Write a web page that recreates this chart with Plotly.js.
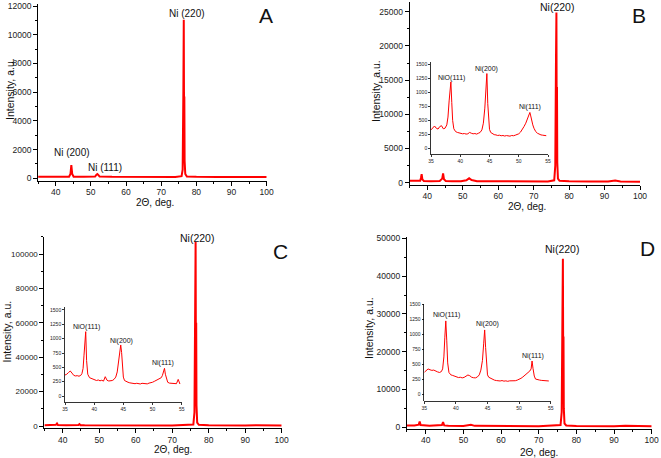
<!DOCTYPE html>
<html>
<head>
<meta charset="utf-8">
<script src="https://cdn.plot.ly/plotly-3.0.1.min.js"></script>
<style>
  body { margin: 0; background: #fff; }
  #xrd { width: 661px; height: 458px; }
</style>
</head>
<body>
<div id="xrd"></div>
<script>
//========================= Data =====================================
// Panel A, full scan
const angleA = [35, 38, 41, 43.8, 44.2, 44.45, 44.7, 45.1, 48, 51.2, 51.6, 51.85, 52.1, 52.5, 56, 62, 68, 74, 75.8, 76.1, 76.3, 76.42, 76.5, 76.58, 76.66, 76.85, 77.3, 80, 86, 92, 100];
const countsA = [110, 100, 100, 110, 300, 925, 300, 110, 100, 120, 250, 300, 240, 120, 100, 100, 95, 95, 150, 600, 6000, 11050, 4500, 5700, 1200, 300, 130, 100, 95, 90, 90];

// Panel B, full scan
const angleB = [35, 36, 37, 38, 38.2, 38.4, 38.6, 39, 41, 43.5, 44.2, 44.45, 44.7, 45.2, 47, 49.5, 51, 51.8, 52.5, 54, 58, 64, 70, 74, 75.8, 76.1, 76.3, 76.42, 76.5, 76.58, 76.66, 76.85, 77.3, 80, 86, 91, 93, 94.5, 100];
const countsB = [300, 310, 290, 300, 700, 1240, 500, 260, 230, 250, 600, 1370, 500, 250, 200, 200, 350, 640, 400, 230, 200, 190, 180, 190, 350, 2500, 18000, 24900, 9000, 14000, 3000, 600, 280, 200, 170, 160, 330, 170, 150];

// Panel C, full scan
const angleC = [35, 37, 38.15, 38.45, 38.7, 41, 44.3, 44.6, 44.9, 46, 50, 52, 53, 60, 70, 75.8, 76.1, 76.3, 76.42, 76.5, 76.58, 76.66, 76.85, 77.3, 80, 90, 93, 100];
const countsC = [500, 500, 700, 1500, 600, 450, 600, 1100, 500, 420, 400, 600, 400, 380, 350, 800, 8000, 70000, 107000, 40000, 60000, 12000, 2000, 700, 400, 350, 500, 300];

// Panel D, full scan
const angleD = [35, 37, 38.15, 38.4, 38.65, 41, 44.3, 44.6, 44.9, 46, 50, 52, 53, 60, 70, 75.8, 76.1, 76.3, 76.42, 76.5, 76.58, 76.66, 76.85, 77.3, 80, 90, 93, 100];
const countsD = [450, 450, 700, 1550, 600, 400, 600, 1350, 500, 380, 350, 650, 380, 320, 300, 600, 4000, 30000, 44600, 18000, 24000, 5000, 1000, 500, 330, 300, 420, 280];

// Insets (35-55 deg zoom), all three share one angle grid
const angleInset = [35.0, 35.3, 35.6, 35.9, 36.2, 36.5, 36.8, 37.1, 37.4, 37.7,
  37.9, 38.1, 38.25, 38.4, 38.55, 38.7, 38.9, 39.2, 39.5, 39.8,
  40.1, 40.4, 40.7, 41.0, 41.3, 41.6, 41.9, 42.2, 42.5, 42.8,
  43.1, 43.4, 43.7, 43.95, 44.2, 44.4, 44.55, 44.7, 44.85, 45.0,
  45.2, 45.5, 45.8, 46.1, 46.4, 46.7, 47.0, 47.3, 47.6, 47.9,
  48.2, 48.5, 48.8, 49.1, 49.4, 49.7, 50.0, 50.3, 50.6, 50.9,
  51.2, 51.5, 51.7, 51.9, 52.05, 52.2, 52.4, 52.6, 52.9, 53.2,
  53.5, 53.8, 54.1, 54.4, 54.7];

const insetB = [330, 370, 400, 360, 345, 390, 405, 350, 360, 420,
  560, 850, 1050, 1190, 820, 500, 350, 300, 285, 275,
  270, 260, 265, 255, 260, 285, 270, 260, 265, 255,
  270, 285, 330, 450, 720, 1180, 1340, 800, 480, 340,
  285, 260, 245, 240, 230, 235, 225, 230, 220, 228,
  225, 218, 230, 225, 235, 245, 260, 290, 330, 390,
  450, 530, 600, 643, 580, 500, 420, 360, 300, 270,
  250, 240, 235, 228, 226];

const insetC = [366, 380, 410, 436, 400, 360, 350, 355, 345, 360,
  390, 480, 700, 960, 1122, 620, 380, 320, 305, 290,
  285, 270, 280, 265, 275, 260, 337, 275, 262, 265,
  270, 290, 330, 420, 600, 800, 890, 760, 480, 330,
  270, 250, 240, 230, 222, 225, 215, 222, 218, 210,
  222, 215, 220, 212, 225, 230, 240, 255, 270, 285,
  300, 320, 360, 460, 483, 380, 280, 240, 225, 220,
  215, 210, 215, 290, 209];

const insetD = [363, 400, 419, 405, 395, 400, 380, 370, 360, 375,
  420, 620, 950, 1222, 900, 520, 360, 320, 310, 300,
  285, 275, 280, 270, 278, 300, 318, 305, 280, 272,
  270, 285, 320, 400, 560, 850, 1071, 780, 450, 320,
  280, 262, 245, 232, 225, 220, 218, 225, 215, 220,
  212, 220, 218, 225, 222, 232, 245, 262, 285, 310,
  340, 365, 385, 420, 552, 430, 300, 250, 238, 234,
  228, 225, 222, 218, 218];

//========================= Helpers =====================================
// pixel -> paper coordinates for the 661x458 canvas
const px = (x) => x / 661;
const py = (y) => 1 - y / 458;

const FONT = "Arial, 'Liberation Sans', sans-serif";
const RED = "#ff0000";

function mainAxis(xDom, range, dtick, minorDtick, anchor, tickSize) {
  return {
    domain: xDom,
    range: range,
    anchor: anchor,
    dtick: dtick,
    tick0: 0,
    tickformat: "d",
    showline: true,
    linecolor: "#000",
    linewidth: 1,
    ticks: "outside",
    ticklen: 4,
    tickwidth: 1,
    tickcolor: "#000",
    minor: {ticks: "outside", ticklen: 2, tickcolor: "#000", dtick: minorDtick, tick0: 0},
    showgrid: false,
    zeroline: false,
    tickfont: {family: FONT, size: tickSize || 8.5, color: "#222"}
  };
}

// x axes of the main panels sit their labels a touch closer to the line
function mainX(xDom, anchor) {
  const ax = mainAxis(xDom, [35, 100], 10, 5, anchor);
  ax.ticklabelstandoff = -1;
  return ax;
}

function insetAxis(dom, range, dtick, anchor) {
  return {
    domain: dom,
    range: range,
    anchor: anchor,
    dtick: dtick,
    tick0: 0,
    tickformat: "d",
    showline: true,
    linecolor: "#000",
    linewidth: 0.8,
    ticks: "outside",
    ticklen: 2,
    tickwidth: 0.8,
    tickcolor: "#000",
    showgrid: false,
    zeroline: false,
    tickfont: {family: FONT, size: 5, color: "#222"}
  };
}

function trace(x, y, xa, ya, width) {
  return {
    x: x,
    y: y,
    xaxis: xa,
    yaxis: ya,
    type: "scatter",
    mode: "lines",
    line: {color: RED, width: width},
    hoverinfo: "skip"
  };
}

//========================= Traces =====================================
const traces = [
  trace(angleA, countsA, "x", "y", 2),
  trace(angleB, countsB, "x2", "y2", 2),
  trace(angleInset, insetB, "x3", "y3", 1),
  trace(angleC, countsC, "x4", "y4", 2),
  trace(angleInset, insetC, "x5", "y5", 1),
  trace(angleD, countsD, "x6", "y6", 2),
  trace(angleInset, insetD, "x7", "y7", 1)
];

//========================= Annotations =====================================
function label(text, x, y, size, angle) {
  return {
    text: text,
    xref: "paper",
    yref: "paper",
    x: px(x),
    y: py(y),
    xanchor: "center",
    yanchor: "middle",
    showarrow: false,
    borderpad: 0,
    textangle: angle || 0,
    font: {family: FONT, size: size, color: "#111"}
  };
}

const annotations = [
  // axis titles
  label("Intensity, a.u.", 10, 89, 10.5, -90),
  label("2Θ, deg.", 155, 202, 10),
  label("Intensity, a.u.", 376, 91, 10.5, -90),
  label("2Θ, deg.", 527, 206, 10),
  label("Intensity, a.u.", 6.5, 332, 10.5, -90),
  label("2Θ, deg.", 172.5, 449, 10),
  label("Intensity, a.u.", 369, 328, 10.5, -90),
  label("2Θ, deg.", 539, 452, 10),
  // panel letters
  label("A", 265.5, 16, 21),
  label("B", 639, 15, 21),
  label("C", 280.7, 251, 21),
  label("D", 647, 248, 21),
  // peak labels, main panels
  label("Ni (200)", 72, 152, 10),
  label("Ni (111)", 105, 167.5, 10),
  label("Ni (220)", 186.5, 14, 10),
  label("Ni(220)", 557, 6.5, 10.5),
  label("Ni(220)", 197, 237.5, 10.5),
  label("Ni(220)", 562, 248.5, 10.5),
  // peak labels, insets
  label("NiO(111)", 451.7, 77.7, 7),
  label("Ni(200)", 486.7, 69, 7),
  label("Ni(111)", 530, 107.3, 7),
  label("NiO(111)", 86.7, 326.7, 7),
  label("Ni(200)", 121.7, 340.7, 7),
  label("Ni(111)", 163.3, 363.3, 7),
  label("NiO(111)", 446.7, 315, 7),
  label("Ni(200)", 487.7, 324.3, 7),
  label("Ni(111)", 533.3, 355.7, 7)
];

//========================= Layout =====================================
const layout = {
  width: 661,
  height: 458,
  margin: {l: 0, r: 0, t: 0, b: 0},
  paper_bgcolor: "#fff",
  plot_bgcolor: "rgba(0,0,0,0)",
  showlegend: false,
  font: {family: FONT},

  // A
  xaxis: mainX([px(38.1), px(266.7)], "y"),
  yaxis: mainAxis([py(180.5), py(4)], [-153, 12140], 2000, 1000, "x"),
  // B
  xaxis2: mainX([px(409.6), px(640)], "y2"),
  yaxis2: mainAxis([py(185), py(2)], [-336, 26420], 5000, 2500, "x2"),
  xaxis3: insetAxis([px(431), px(548)], [35, 55], 5, "y3"),
  yaxis3: insetAxis([py(154), py(62)], [-102, 1547], 250, "x3"),
  // C
  xaxis4: mainX([px(44.4), px(281.7)], "y4"),
  yaxis4: mainAxis([py(428.3), py(236.7)], [-1337, 110058], 20000, 10000, "x4", 8),
  xaxis5: insetAxis([px(65), px(181.7)], [35, 55], 5, "y5"),
  yaxis5: insetAxis([py(401.7), py(307)], [-99, 1552], 250, "x5"),
  // D
  xaxis6: mainX([px(406.9), px(651.7)], "y6"),
  yaxis6: mainAxis([py(429), py(236.7)], [-450, 50423], 10000, 5000, "x6"),
  xaxis7: insetAxis([px(424.3), px(550.7)], [35, 55], 5, "y7"),
  yaxis7: insetAxis([py(401), py(304)], [-117, 1505], 250, "x7"),

  annotations: annotations
};

Plotly.newPlot("xrd", traces, layout, {staticPlot: true, displayModeBar: false});
</script>
</body>
</html>
